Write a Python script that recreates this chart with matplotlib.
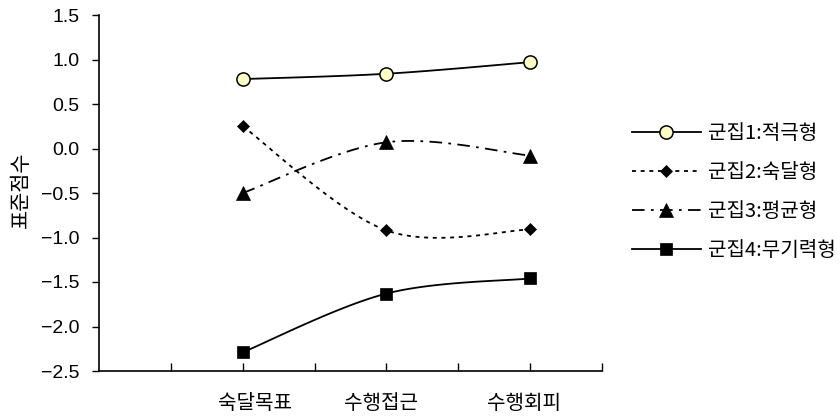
import numpy as np
import matplotlib
matplotlib.use("Agg")
import matplotlib.pyplot as plt
from matplotlib.transforms import offset_copy

plt.rcParams['font.family'] = ['Noto Sans CJK KR', 'DejaVu Sans']
plt.rcParams['axes.unicode_minus'] = True

# Category positions on a 0..7 grid (ticks at every integer)
categories = ["숙달목표", "수행접근", "수행회피"]
cat_pos = [2, 4, 6]

series_names = ["군집1:적극형", "군집2:숙달형", "군집3:평균형", "군집4:무기력형"]
cluster1 = [0.78, 0.84, 0.97]
cluster2 = [0.25, -0.92, -0.91]
cluster3 = [-0.50, 0.07, -0.08]
cluster4 = [-2.29, -1.63, -1.46]

y_ticks = [-2.5, -2.0, -1.5, -1.0, -0.5, 0.0, 0.5, 1.0, 1.5]


def smooth(xs, ys, n=40):
    """Bezier smoothing through the points (spreadsheet-style, tension 1/6)."""
    xs = np.asarray(xs, float)
    ys = np.asarray(ys, float)
    px = np.concatenate([[xs[0]], xs, [xs[-1]]])
    py = np.concatenate([[ys[0]], ys, [ys[-1]]])
    out_x, out_y = [], []
    t = np.linspace(0, 1, n)
    for i in range(1, len(px) - 2):
        p0x, p0y = px[i], py[i]
        p3x, p3y = px[i + 1], py[i + 1]
        c1x = p0x + (px[i + 1] - px[i - 1]) / 6
        c1y = p0y + (py[i + 1] - py[i - 1]) / 6
        c2x = p3x - (px[i + 2] - px[i]) / 6
        c2y = p3y - (py[i + 2] - py[i]) / 6
        bx = ((1 - t) ** 3) * p0x + 3 * ((1 - t) ** 2) * t * c1x + 3 * (1 - t) * t ** 2 * c2x + t ** 3 * p3x
        by = ((1 - t) ** 3) * p0y + 3 * ((1 - t) ** 2) * t * c1y + 3 * (1 - t) * t ** 2 * c2y + t ** 3 * p3y
        out_x.append(bx)
        out_y.append(by)
    return np.concatenate(out_x), np.concatenate(out_y)


fig = plt.figure(figsize=(8.4, 4.16), dpi=100)
ax = fig.add_axes([99 / 840, 1 - 371 / 416, (602 - 99) / 840, (371 - 15) / 416])

styles = [
    dict(ls='-', marker='o', ms=9.5, mfc='#FFFFC4', mec='black', mew=1.1),
    dict(ls=(0, (2.2, 2.6)), marker='D', ms=6, mfc='black', mec='black', mew=0.5),
    dict(ls=(0, (7, 3.5, 1.5, 3.5)), marker='^', ms=9.5, mfc='black', mec='black', mew=0.5),
    dict(ls='-', marker='s', ms=8, mfc='black', mec='black', mew=0.5),
]

handles = []
for vals, name, st in zip([cluster1, cluster2, cluster3, cluster4], series_names, styles):
    sx, sy = smooth(cat_pos, vals)
    ax.plot(sx, sy, color='black', lw=1.3, ls=st['ls'], zorder=2)
    ax.plot(cat_pos, vals, ls='none', marker=st['marker'], ms=st['ms'],
            mfc=st['mfc'], mec=st['mec'], mew=st['mew'], zorder=3)
    h, = ax.plot([], [], color='black', lw=1.3, ls=st['ls'], marker=st['marker'],
                 ms=st['ms'], mfc=st['mfc'], mec=st['mec'], mew=st['mew'], label=name)
    handles.append(h)

ax.set_xlim(0, 7)
ax.set_ylim(-2.5, 1.5)
ax.set_yticks(y_ticks)
ax.set_yticklabels([f"{v:.1f}".replace('-', '\u2212') for v in y_ticks])
ax.set_xticks(range(1, 8))
ax.set_xticklabels([])
ax.tick_params(axis='y', direction='out', length=5, width=1, labelsize=14, pad=9)
ax.tick_params(axis='x', direction='in', length=6, width=1)
for lab in ax.get_yticklabels():
    lab.set_family(['Liberation Sans', 'DejaVu Sans'])

# category captions under the axis, nudged horizontally (in points)
label_nudge = [9, -4, -4.5]
for xp, name, dx in zip(cat_pos, categories, label_nudge):
    tr = offset_copy(ax.get_xaxis_transform(), fig=fig, x=dx, y=0, units='points')
    ax.text(xp, -0.083, name, transform=tr, ha='center',
            va='center_baseline', fontsize=14.5)

for side in ['top', 'right']:
    ax.spines[side].set_visible(False)
for side in ['left', 'bottom']:
    ax.spines[side].set_linewidth(1.2)

fig.text(21 / 840, 1 - 190 / 416, "표준점수", rotation=90, ha='center', va='center', fontsize=15)

fig.legend(handles=handles, loc='center left', bbox_to_anchor=(624 / 840, 1 - 192 / 416),
           frameon=False, fontsize=14.5, handlelength=3.4, handletextpad=0.35,
           labelspacing=0.9, borderaxespad=0)

fig.savefig("out.png", dpi=100)
